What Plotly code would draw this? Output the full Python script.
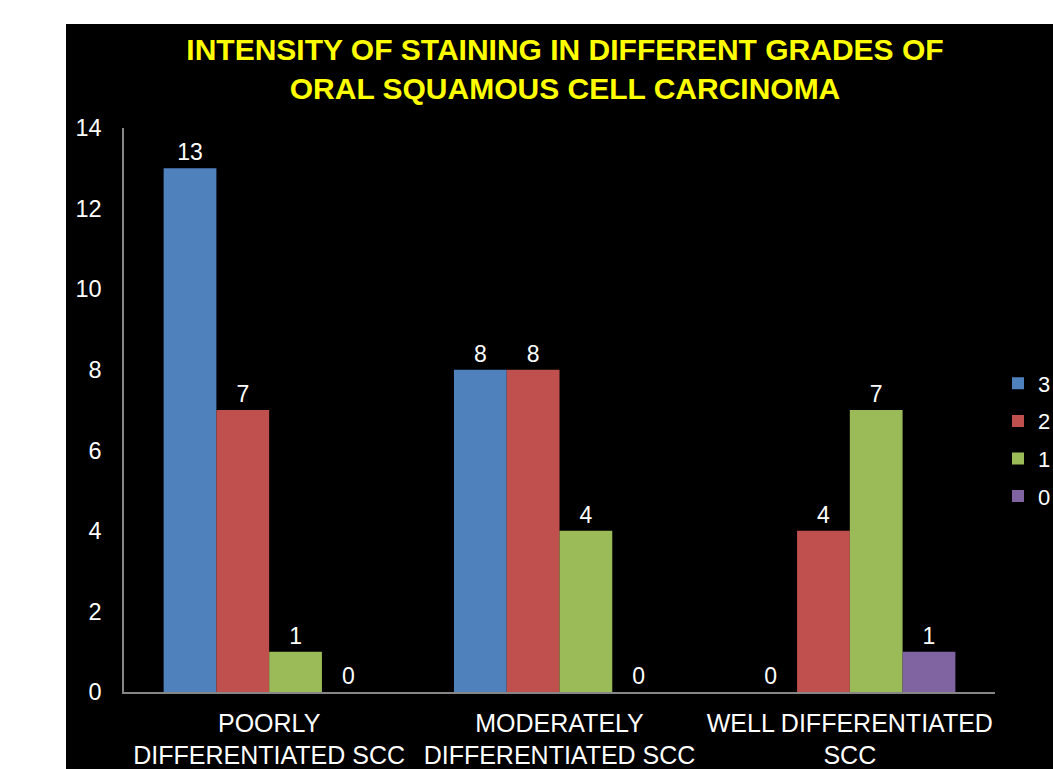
import plotly.graph_objects as go

categories = ["POORLY<br>DIFFERENTIATED SCC", "MODERATELY<br>DIFFERENTIATED SCC", "WELL DIFFERENTIATED<br>SCC"]
series_names = ["3", "2", "1", "0"]
values_3 = [13, 8, 0]
values_2 = [7, 8, 4]
values_1 = [1, 4, 7]
values_0 = [0, 0, 1]
colors = ["#4F81BD", "#C0504D", "#9BBB59", "#8064A2"]
y_ticks = [0, 2, 4, 6, 8, 10, 12, 14]

W, H = 1053, 769
L, R, T, B = 124, 58, 128, 77
pw, ph = W - L - R, H - T - B

def px2x(px):
    return (px - L) / pw

def px2y(py):
    return (H - B - py) / ph

fig = go.Figure()
for name, vals, col in zip(series_names, [values_3, values_2, values_1, values_0], colors):
    fig.add_trace(go.Bar(
        x=categories, y=vals, name=name, legendgroup=name,
        marker=dict(color=col, line=dict(width=0)),
        text=[str(v) for v in vals], textposition="outside",
        textfont=dict(color="white", size=23, family="Liberation Sans, Arial"),
        cliponaxis=False,
    ))

fig.update_layout(
    width=W, height=H,
    margin=dict(l=L, r=R, t=T, b=B, autoexpand=False),
    paper_bgcolor="white",
    plot_bgcolor="rgba(0,0,0,0)",
    barmode="group", bargap=0.273, bargroupgap=0,
    font=dict(family="Liberation Sans, Arial", color="white"),
    title=dict(
        text="INTENSITY OF STAINING IN DIFFERENT GRADES OF<br>ORAL SQUAMOUS CELL CARCINOMA",
        font=dict(size=30, color="#FFFF00", family="Liberation Sans, Arial", weight="bold"),
        x=px2x(565), xref="paper", xanchor="center",
        y=1 - 60 / H, yref="container", yanchor="middle",
    ),
    showlegend=True,
    legend=dict(
        x=px2x(998), xanchor="left", y=px2y(440), yanchor="middle",
        font=dict(size=22, color="white"), bgcolor="rgba(0,0,0,0)",
        itemwidth=30, tracegroupgap=6,
    ),
    shapes=[dict(
        type="rect", xref="paper", yref="paper",
        x0=px2x(66), x1=px2x(W + 5), y0=px2y(24), y1=px2y(H + 5),
        fillcolor="black", line=dict(width=0), layer="below",
    )],
)
fig.update_yaxes(
    range=[0, 14], tickvals=y_ticks, showgrid=False, zeroline=False,
    showline=True, linecolor="#868686", linewidth=1.5,
    ticks="", ticklabelstandoff=16, automargin=False,
    tickfont=dict(size=23.5, color="white"),
)
fig.update_xaxes(
    showgrid=False, showline=True, linecolor="#868686", linewidth=1.5,
    ticks="", ticklabelstandoff=8, automargin=False,
    tickfont=dict(size=25, color="white"),
)

fig.write_html("out.html")
